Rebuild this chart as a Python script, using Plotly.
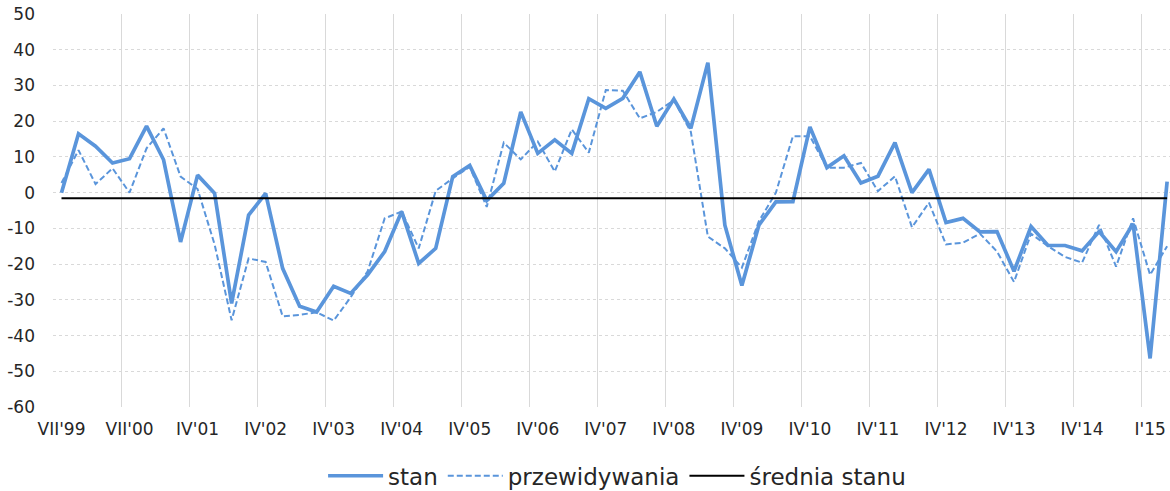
import plotly.graph_objects as go

# survey balance, quarterly
stan = [0, 16.5, 13, 8.3, 9.5, 18.6, 9.2, -13.8, 4.9, -0.2,
        -31, -6.3, -0.2, -21.2, -31.8, -33.4, -26.2, -28.2, -23, -16.5,
        -5.3, -19.8, -15.6, 4.5, 7.6, -2.2, 2.6, 22.6, 11, 14.8,
        11, 26.3, 23.6, 26.4, 33.8, 18.6, 26.2, 18, 36.4, -9.1,
        -26, -9.1, -2.6, -2.5, 18.4, 7, 10.3, 2.7, 4.6, 14,
        0, 6.5, -8.4, -7.2, -11, -10.9, -22, -9.5, -14.8, -14.8,
        -16.3, -10.9, -16.5, -8.7, -46.4, 3.1]

przewidywania = [2.7, 11.9, 2.4, 6.8, 0, 12.4, 18, 4.5, 1, -14.5,
                 -35.7, -18.4, -19.4, -34.6, -34.2, -33.5, -35.8, -29.3, -22, -7.2,
                 -5.3, -15.6, 0.5, 4, 7.2, -4, 14, 9.3, 14.3, 5.9,
                 17.7, 11.2, 28.7, 28.5, 20.8, 22.6, 25.9, 17, -12.3, -15.6,
                 -21, -8, 0, 15.8, 15.8, 7, 7, 8.3, 0.4, 4.6,
                 -9.7, -2.8, -14.5, -14, -11.5, -16.5, -25, -11.5, -15, -18,
                 -19.6, -9, -20.7, -7.2, -23, -15]

srednia = -1.6

tick_labels = ["VII'99", "VII'00", "IV'01", "IV'02", "IV'03", "IV'04", "IV'05", "IV'06",
               "IV'07", "IV'08", "IV'09", "IV'10", "IV'11", "IV'12", "IV'13", "IV'14", "I'15"]
y_ticks = [50, 40, 30, 20, 10, 0, -10, -20, -30, -40, -50, -60]

x = list(range(len(stan)))
blue = "#5a95db"

fig = go.Figure()
fig.add_trace(go.Scatter(x=x, y=stan, name="stan", mode="lines",
                         line=dict(color=blue, width=3.7)))
fig.add_trace(go.Scatter(x=x, y=przewidywania, name="przewidywania", mode="lines",
                         line=dict(color=blue, width=2, dash="6px,3px")))
fig.add_trace(go.Scatter(x=x, y=[srednia] * len(x), name="średnia stanu", mode="lines",
                         line=dict(color="black", width=2)))

fig.update_layout(
    width=1170, height=491,
    margin=dict(l=53, r=0, t=14, b=84, autoexpand=False),
    plot_bgcolor="white", paper_bgcolor="white",
    font=dict(family="DejaVu Sans", size=17, color="#262626"),
    showlegend=True,
    legend=dict(orientation="h", x=0.505, xanchor="center",
                yref="container", y=0.031, yanchor="middle",
                font=dict(size=23), itemwidth=55),
    xaxis=dict(
        range=[-0.5, 65.17], automargin=False,
        tickmode="array", tickvals=x[::4], ticktext=tick_labels,
        showgrid=False, zeroline=False, showline=False, ticks="",
        ticklabelstandoff=10,
        minor=dict(tickmode="array", tickvals=[i - 0.5 for i in x[::4]],
                   showgrid=True, gridcolor="#d9d9d9", gridwidth=1),
    ),
    yaxis=dict(
        range=[-60, 50], automargin=False,
        tickmode="array", tickvals=y_ticks, ticktext=[str(v) for v in y_ticks],
        ticklabeloverflow="allow",
        showgrid=True, gridcolor="#d9d9d9", griddash="dot", gridwidth=1,
        zeroline=False, showline=False, ticks="",
        ticklabelstandoff=17,
    ),
)

# drop the default 8px body margin so the figure fills the window exactly
fig.write_html("out.html", config={"displayModeBar": False},
               post_script="document.body.style.margin = '0';")
